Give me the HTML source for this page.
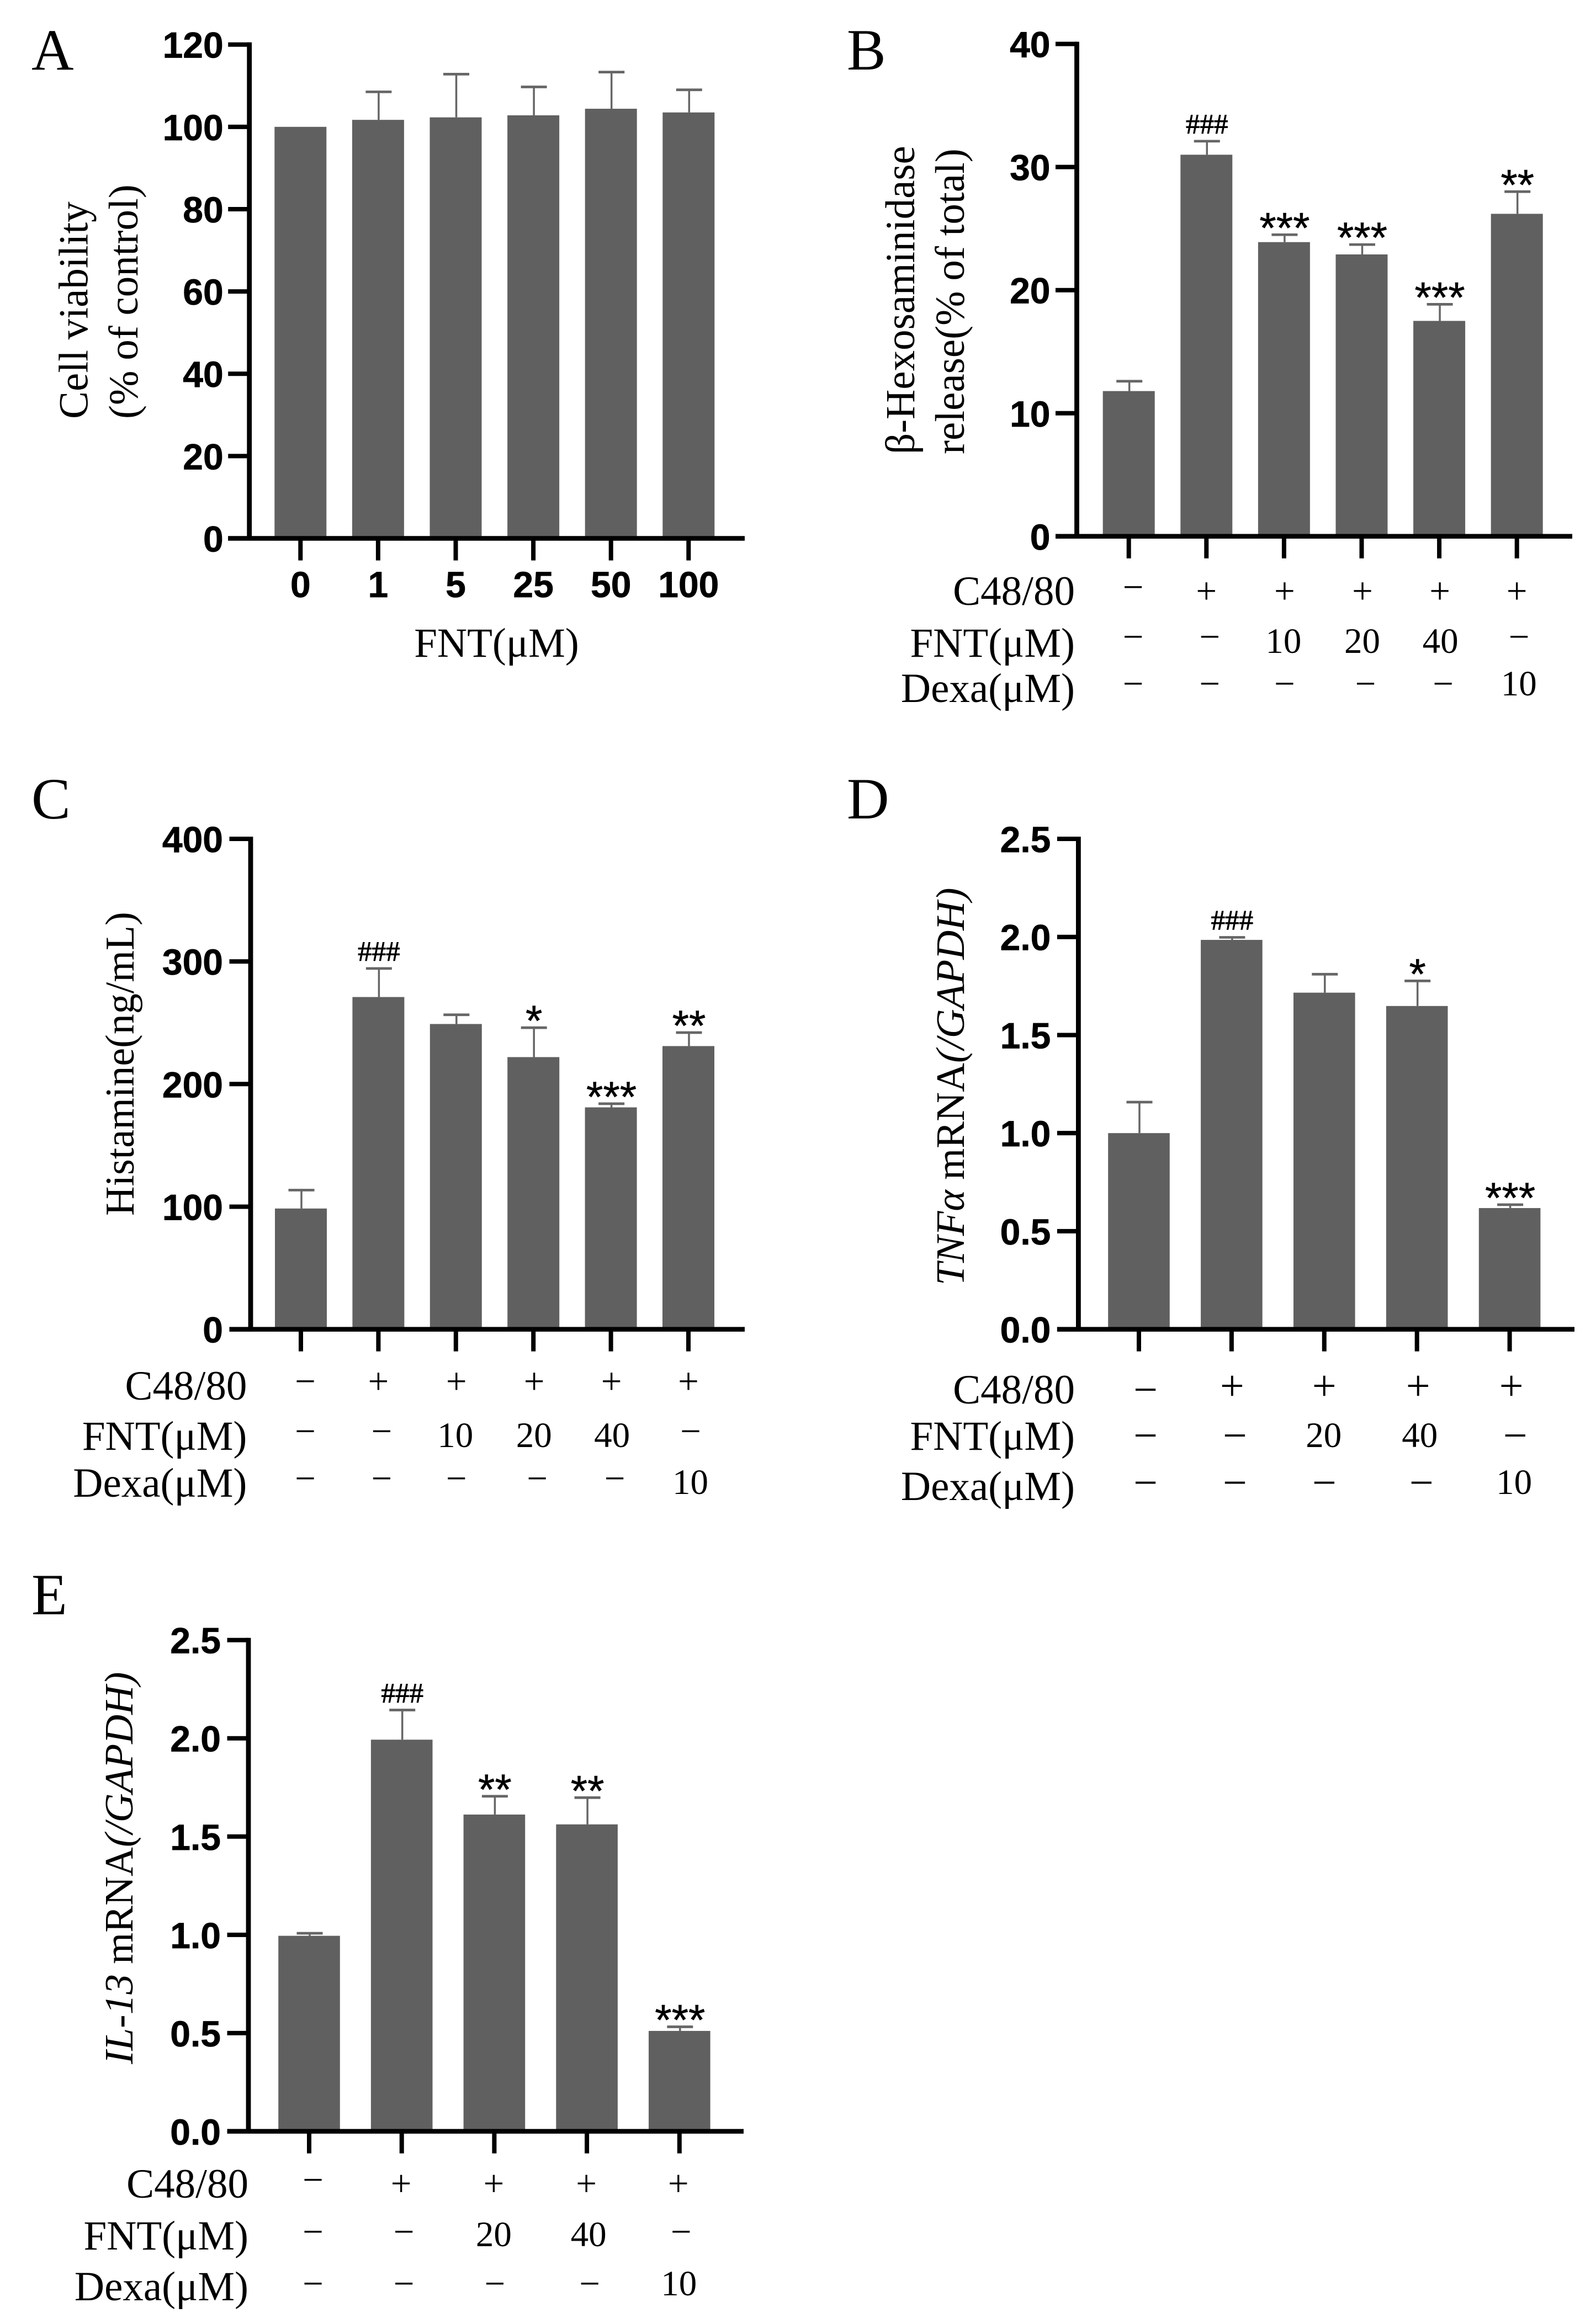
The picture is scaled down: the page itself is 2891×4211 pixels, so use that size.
<!DOCTYPE html>
<html lang="en">
<head>
<meta charset="utf-8">
<title>FNT bar charts</title>
<style>
html,body{margin:0;padding:0;background:#fff}
svg{display:block}
.serif{font-family:"Liberation Serif",serif;fill:#000}
.title{font-size:75px}
.row-label{font-size:75px;text-anchor:end}
.letter{font-size:106px}
</style>
</head>
<body>
<svg id="chart" xmlns="http://www.w3.org/2000/svg" width="2891" height="4211" viewBox="0 0 2891 4211">
<rect x="0" y="0" width="2891" height="4211" fill="#fff"/>

<text class="serif letter" x="57" y="126">A</text>
<text class="serif letter" x="1534" y="126">B</text>
<text class="serif letter" x="57" y="1483">C</text>
<text class="serif letter" x="1534" y="1483">D</text>
<text class="serif letter" x="57" y="2925">E</text>

<text class="serif title" transform="translate(158.7,759) rotate(-90)">Cell viability</text>
<text class="serif title" transform="translate(249,759) rotate(-90)">(% of control)</text>
<text class="serif title" x="899.5" y="1190" text-anchor="middle">FNT(μM)</text>

<text class="serif title" transform="translate(1656,823) rotate(-90)">β-Hexosaminidase</text>
<text class="serif title" transform="translate(1746,823) rotate(-90)">release(% of total)</text>
<text class="serif row-label" x="1947" y="1096">C48/80</text>
<text class="serif row-label" x="1947" y="1190">FNT(μM)</text>
<text class="serif row-label" x="1947" y="1272">Dexa(μM)</text>

<text class="serif title" style="font-size:74px" transform="translate(242,2203) rotate(-90)">Histamine(ng/mL)</text>
<text class="serif row-label" x="447.4" y="2536">C48/80</text>
<text class="serif row-label" x="447.4" y="2627">FNT(μM)</text>
<text class="serif row-label" x="447.4" y="2712">Dexa(μM)</text>

<text class="serif title" style="font-size:73.3px" transform="translate(1746,2329) rotate(-90)"><tspan font-style="italic">TNFα</tspan> mRNA<tspan font-style="italic">(/GAPDH)</tspan></text>
<text class="serif row-label" x="1947" y="2543">C48/80</text>
<text class="serif row-label" x="1947" y="2627">FNT(μM)</text>
<text class="serif row-label" x="1947" y="2718">Dexa(μM)</text>

<text class="serif title" style="font-size:73.3px" transform="translate(240,3740) rotate(-90)"><tspan font-style="italic">IL-13</tspan> mRNA<tspan font-style="italic">(/GAPDH)</tspan></text>
<text class="serif row-label" x="450" y="3982">C48/80</text>
<text class="serif row-label" x="450" y="4076">FNT(μM)</text>
<text class="serif row-label" x="450" y="4168">Dexa(μM)</text>
</svg>

<script>
// ---------- Panel A data ----------
const aCategories = ['0','1','5','25','50','100'];
const aValues = [100,101.7,102.3,102.8,104.4,103.5];
const aErrors = [0,6.8,10.5,6.9,8.9,5.5];
const aTicks = [0,20,40,60,80,100,120];
const aTickLabels = ['0','20','40','60','80','100','120'];
const aMarks = ['','','','','',''];
// ---------- Panel B data ----------
const bValues = [11.8,31,23.9,22.9,17.5,26.2];
const bErrors = [0.8,1.1,0.6,0.8,1.35,1.8];
const bTicks = [0,10,20,30,40];
const bTickLabels = ['0','10','20','30','40'];
const bMarks = ['','###','***','***','***','**'];
const bC48 = ['−','+','+','+','+','+'];
const bFnt = ['−','−','10','20','40','−'];
const bDexa = ['−','−','−','−','−','10'];
// ---------- Panel C data ----------
const cValues = [98.5,271,249,222,181,231];
const cErrors = [15,23.3,7.5,24,3,11];
const cTicks = [0,100,200,300,400];
const cTickLabels = ['0','100','200','300','400'];
const cMarks = ['','###','','*','***','**'];
const cC48 = ['−','+','+','+','+','+'];
const cFnt = ['−','−','10','20','40','−'];
const cDexa = ['−','−','−','−','−','10'];
// ---------- Panel D data ----------
const dValues = [1,1.985,1.716,1.648,0.618];
const dErrors = [0.158,0.013,0.094,0.128,0.017];
const dTicks = [0,0.5,1,1.5,2,2.5];
const dTickLabels = ['0.0','0.5','1.0','1.5','2.0','2.5'];
const dMarks = ['','###','','*','***'];
const dC48 = ['−','+','+','+','+'];
const dFnt = ['−','−','20','40','−'];
const dDexa = ['−','−','−','−','10'];
// ---------- Panel E data ----------
const eValues = [0.995,1.993,1.612,1.562,0.511];
const eErrors = [0.013,0.151,0.093,0.136,0.021];
const eTicks = [0,0.5,1,1.5,2,2.5];
const eTickLabels = ['0.0','0.5','1.0','1.5','2.0','2.5'];
const eMarks = ['','###','**','**','***'];
const eC48 = ['−','+','+','+','+'];
const eFnt = ['−','−','20','40','−'];
const eDexa = ['−','−','−','−','10'];

const NS = 'http://www.w3.org/2000/svg';
const root = document.getElementById('chart');

function shape(tag, attrs, parent) {
  const el = document.createElementNS(NS, tag);
  for (const k in attrs) el.setAttribute(k, attrs[k]);
  parent.appendChild(el);
  return el;
}

function drawPanel(id, g) {
  const layer = shape('g', {}, root);
  
  

  const yMax = g.ticks[g.ticks.length - 1];
  const yScale = v => g.base - (v / yMax) * (g.base - g.top);
  const xScale = i => g.xFirst + i * g.xStep;

  // bars + error bars
  g.values.forEach((v, i) => {
    const cx = xScale(i);
    const y = yScale(v);
    const bar = shape('rect', {x: cx - g.barW / 2, y: y, width: g.barW, height: g.base - y, fill: '#606060'}, layer);
    
    
    const e = g.errors[i];
    const errTop = yScale(v + e);
    if (e > 0) {
      const stem = shape('line', {x1: cx + 1, x2: cx + 1, y1: y, y2: errTop, stroke: '#666', 'stroke-width': 3.5}, layer);
      
      
      const cap = shape('line', {x1: cx - 22.5, x2: cx + 24.5, y1: errTop, y2: errTop, stroke: '#666', 'stroke-width': 4.7}, layer);
      
      
    }
    const m = g.marks[i];
    if (m) {
      const hash = m[0] === '#';
      const note = shape('text', {
        x: cx + 1,
        y: hash ? errTop - 13.7 : errTop + 14,
        'text-anchor': 'middle',
        'font-size': hash ? 51 : 78,
        'font-family': hash ? '"Liberation Serif",serif' : '"Liberation Sans",sans-serif',
        fill: '#000',
        stroke: '#000',
        'stroke-width': hash ? 0.9 : 0.6
      }, layer);
      note.textContent = m;
      
      
    }
  });

  // axes
  const yAxis = shape('line', {x1: g.axisX, x2: g.axisX, y1: g.top - 4, y2: g.base + 4, stroke: '#000', 'stroke-width': 8.8}, layer);
  
  
  const xAxis = shape('line', {x1: g.axisX - 38.5, x2: g.xEnd, y1: g.base, y2: g.base, stroke: '#000', 'stroke-width': 8.5}, layer);
  
  

  // y ticks
  g.ticks.forEach((t, i) => {
    const y = yScale(t);
    const tick = shape('line', {x1: g.axisX - 38.5, x2: g.axisX, y1: y, y2: y, stroke: '#000', 'stroke-width': 8}, layer);
    
    
    const lab = shape('text', {
      x: g.axisX - g.labelGap,
      y: y + 24,
      'text-anchor': 'end',
      'font-size': g.tickFont,
      'font-weight': 'bold',
      'font-family': '"Liberation Sans",sans-serif',
      fill: '#000',
      stroke: '#000',
      'stroke-width': 0.7
    }, layer);
    lab.textContent = g.tickLabels[i];
    
    
  });

  // x ticks
  g.values.forEach((v, i) => {
    const cx = xScale(i);
    const tick = shape('line', {x1: cx, x2: cx, y1: g.base, y2: g.base + 40, stroke: '#000', 'stroke-width': 8}, layer);
    
    
  });

  // category labels (panel A)
  if (g.categories) {
    g.categories.forEach((c, i) => {
      const lab = shape('text', {
        x: xScale(i),
        y: g.categoryY,
        'text-anchor': 'middle',
        'font-size': g.tickFont,
        'font-weight': 'bold',
        'font-family': '"Liberation Sans",sans-serif',
        fill: '#000',
        stroke: '#000',
        'stroke-width': 0.7
      }, layer);
      lab.textContent = c;
      
      
    });
  }

  // treatment rows
  if (g.rows) {
    g.rows.forEach((row, r) => {
      row.forEach((cell, i) => {
        const isPlus = cell === '+';
        const isDash = cell === '−';
        const size = (isPlus || isDash) ? g.symbolFont : 65;
        let y = g.numberY[r];
        let dx = g.numberDx[i];
        if (isPlus) { y = g.plusY + size * 0.34; dx = g.plusDx[i]; }
        if (isDash) { y = g.dashY[r] + size * 0.34; dx = g.dashDx[i]; }
        const txt = shape('text', {
          x: xScale(i) + dx,
          y: y,
          'text-anchor': 'middle',
          'font-size': size,
          'font-family': '"Liberation Serif",serif',
          fill: '#000'
        }, layer);
        txt.textContent = cell;
        
        
      });
    });
  }
}

const sixDashDx = [8, 6, 1, 7, 7, 4];
const sixPlusDx = [0, 0, 1, 1.5, 1, 0];
const sixNumberDx = [0, 0, -1, 1, 2, 3.5];

drawPanel('a', {
  values: aValues, errors: aErrors, ticks: aTicks, tickLabels: aTickLabels, marks: aMarks, categories: aCategories,
  axisX: 451.7, top: 80.7, base: 975.5, xFirst: 544.3, xStep: 140.6, xEnd: 1349, barW: 94,
  tickFont: 66, labelGap: 47, categoryY: 1082
});
drawPanel('b', {
  values: bValues, errors: bErrors, ticks: bTicks, tickLabels: bTickLabels, marks: bMarks, rows: [bC48, bFnt, bDexa],
  axisX: 1950.5, top: 79.6, base: 971.8, xFirst: 2044.7, xStep: 140.6, xEnd: 2848, barW: 94,
  tickFont: 66, labelGap: 48, symbolFont: 67, dashDx: sixDashDx, plusDx: sixPlusDx, numberDx: sixNumberDx,
  plusY: 1070, dashY: [1063, 1153, 1238], numberY: [1183, 1183, 1260]
});
drawPanel('c', {
  values: cValues, errors: cErrors, ticks: cTicks, tickLabels: cTickLabels, marks: cMarks, rows: [cC48, cFnt, cDexa],
  axisX: 454, top: 1520, base: 2408.6, xFirst: 545, xStep: 140.4, xEnd: 1349, barW: 94,
  tickFont: 66, labelGap: 50, symbolFont: 67, dashDx: sixDashDx, plusDx: sixPlusDx, numberDx: sixNumberDx,
  plusY: 2502, dashY: [2502, 2592.7, 2678], numberY: [2622, 2622, 2707]
});
drawPanel('d', {
  values: dValues, errors: dErrors, ticks: dTicks, tickLabels: dTickLabels, marks: dMarks, rows: [dC48, dFnt, dDexa],
  axisX: 1953.4, top: 1520, base: 2408.6, xFirst: 2063, xStep: 167.9, xEnd: 2852, barW: 111.6,
  tickFont: 66, labelGap: 50, symbolFont: 78, dashDx: [12, 6, 0, 8, 10], plusDx: [0, 1, 0, 2, 3], numberDx: [0, 0, -1, 5, 8],
  plusY: 2510.7, dashY: [2517.7, 2600.7, 2686], numberY: [2622, 2622, 2707]
});
drawPanel('e', {
  values: eValues, errors: eErrors, ticks: eTicks, tickLabels: eTickLabels, marks: eMarks, rows: [eC48, eFnt, eDexa],
  axisX: 450, top: 2971.7, base: 3861.9, xFirst: 560, xStep: 167.7, xEnd: 1347, barW: 111.6,
  tickFont: 66, labelGap: 50, symbolFont: 67, dashDx: [7, 4, 1, 5, 3], plusDx: [0, -1, -1, -1, -2], numberDx: [0, 0, -1, 3, -1],
  plusY: 3955.6, dashY: [3949, 4043, 4137], numberY: [4070, 4070, 4159]
});
</script>
</body>
</html>
